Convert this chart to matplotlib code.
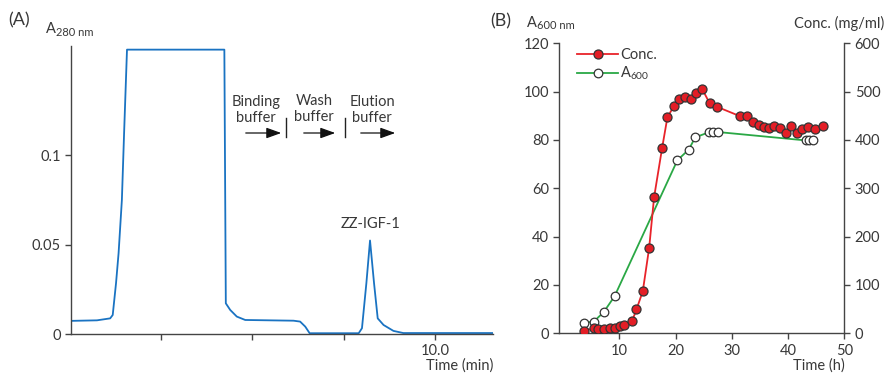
import matplotlib
matplotlib.use("Agg")
import matplotlib.pyplot as plt

plt.rcParams['font.family'] = ['Lato', 'DejaVu Sans']
plt.rcParams['mathtext.fontset'] = 'custom'
plt.rcParams['mathtext.rm'] = 'Lato'
plt.rcParams['mathtext.it'] = 'Lato'

TXT = '#383838'

# ---- Panel A data: chromatogram (time in min, A280) ----
a_time = [0.05, 0.76, 1.12, 1.19, 1.28, 1.35, 1.44, 1.50, 1.58, 4.24, 4.28, 4.40, 4.58,
          4.81, 6.13, 6.31, 6.45, 6.57, 7.91, 8.00, 8.12, 8.22, 8.33, 8.43, 8.59, 8.86,
          9.13, 11.58]
a_abs = [0.0075, 0.0078, 0.0089, 0.0108, 0.0285, 0.0453, 0.075, 0.112, 0.159, 0.159,
         0.0173, 0.0136, 0.0099, 0.0080, 0.0076, 0.0071, 0.0043, 0.0006, 0.0006, 0.0034,
         0.0285, 0.0524, 0.0285, 0.0089, 0.0052, 0.0019, 0.0007, 0.0007]
a_xticks = [2.5, 5.0, 7.5, 10.0]
a_xticklabels = ['', '', '', '10.0']
a_yticks = [0, 0.05, 0.1]
a_yticklabels = ['0', '0.05', '0.1']

# ---- Panel B data ----
conc_time = [3.78, 5.44, 6.26, 7.21, 8.33, 9.22, 10.1, 10.87, 12.29, 13.06, 14.18, 15.31,
             16.19, 17.61, 18.56, 19.68, 20.69, 21.75, 22.75, 23.64, 24.76, 26.06, 27.3,
             31.5, 32.74, 33.75, 34.75, 35.7, 36.64, 37.59, 38.59, 39.6, 40.6, 41.55,
             42.5, 43.5, 44.74, 46.2]
conc_val = [5.5, 10.4, 9.0, 9.0, 11.0, 11.5, 15.0, 18.0, 25.5, 49.5, 87.0, 176.5,
            281.5, 383.0, 447.0, 469.5, 484.0, 489.5, 485.5, 497.0, 505.0, 476.0, 469.0,
            449.0, 449.0, 437.0, 431.0, 427.5, 425.5, 428.5, 424.0, 414.5, 428.5, 414.5,
            423.5, 427.5, 422.0, 428.5]
a600_time = [3.78, 5.44, 7.21, 9.16, 20.33, 22.34, 23.52, 25.95, 26.71, 27.48, 43.2, 43.8, 44.4]
a600_val = [4.4, 4.8, 8.7, 15.3, 71.6, 76.0, 81.1, 83.2, 83.3, 83.3, 79.8, 79.8, 79.8]
b_xticks = [10, 20, 30, 40, 50]
b_yticks = [0, 20, 40, 60, 80, 100, 120]
b_y2ticks = [0, 100, 200, 300, 400, 500, 600]

W, H = 885, 373
fig = plt.figure(figsize=(W / 100, H / 100), dpi=100)

def fx(px):
    return px / W

def fy(py):
    return 1 - py / H

# ----- Panel A -----
axA = fig.add_axes([fx(71), fy(334.3), fx(493 - 71), (334.3 - 45.7) / H])
axA.plot(a_time, a_abs, color='#1a73c2', lw=1.3)
axA.set_xlim(0.05, 11.58)
axA.set_ylim(0, 0.1612)
axA.spines['top'].set_visible(False)
axA.spines['right'].set_visible(False)
for s in ['left', 'bottom']:
    axA.spines[s].set_color('#444444')
    axA.spines[s].set_linewidth(1.0)
axA.set_xticks(a_xticks)
axA.set_xticklabels(a_xticklabels)
axA.set_yticks(a_yticks)
axA.set_yticklabels(a_yticklabels)
axA.tick_params(axis='both', colors='#444444', labelcolor=TXT, labelsize=10.5, length=4, width=1)
axA.tick_params(axis='x', pad=3)

fig.text(fx(8), fy(20), '(A)', fontsize=13, color=TXT, va='center', ha='left')
fig.text(fx(46), fy(33), 'A', fontsize=10.5, color=TXT, va='baseline', ha='left')
fig.text(fx(56), fy(36), '280 nm', fontsize=8, color=TXT, va='baseline', ha='left')
fig.text(fx(493), fy(366), 'Time (min)', fontsize=10.5, color=TXT, va='center', ha='right')

fig.text(fx(256), fy(110), 'Binding\nbuffer', fontsize=10.5, color=TXT, ha='center', va='center', linespacing=1.15)
fig.text(fx(314), fy(109), 'Wash\nbuffer', fontsize=10.5, color=TXT, ha='center', va='center', linespacing=1.15)
fig.text(fx(372), fy(110), 'Elution\nbuffer', fontsize=10.5, color=TXT, ha='center', va='center', linespacing=1.15)
for x0, x1 in [(243, 284), (301, 338), (358, 398)]:
    fig.add_artist(matplotlib.patches.FancyArrowPatch(
        (fx(x0), fy(133)), (fx(x1), fy(133)), transform=fig.transFigure,
        arrowstyle='-|>,head_length=0.75,head_width=0.27', mutation_scale=12,
        color='#111111', lw=0.9))
for xb in [286, 345]:
    fig.add_artist(matplotlib.lines.Line2D([fx(xb), fx(xb)], [fy(118), fy(137)],
                                           color='#222222', lw=1.0, transform=fig.transFigure))
fig.text(fx(371), fy(224), 'ZZ-IGF-1', fontsize=10.5, color=TXT, ha='center', va='center')

# ----- Panel B -----
axB = fig.add_axes([fx(559.3), fy(333.3), fx(844.3 - 559.3), (333.3 - 43.3) / H])
axB.set_xlim(-0.66, 50)
axB.set_ylim(0, 120)
axB2 = axB.twinx()
axB2.set_ylim(0, 600)
lg, = axB.plot(a600_time, a600_val, color='#2aa845', lw=1.3, marker='o', ms=6.2,
               mfc='white', mec='#333333', mew=0.9, label='A$_{600}$')
lr, = axB2.plot(conc_time, conc_val, color='#e8232a', lw=1.3, marker='o', ms=6.5,
                mfc='#e31e26', mec='#333333', mew=0.9, label='Conc.')
for ax in (axB, axB2):
    ax.spines['top'].set_visible(False)
    for s in ['left', 'bottom', 'right']:
        ax.spines[s].set_color('#444444')
        ax.spines[s].set_linewidth(1.0)
    ax.tick_params(axis='both', colors='#444444', labelcolor=TXT, labelsize=10.5, length=4, width=1)
axB.spines['right'].set_visible(False)
axB2.spines['left'].set_visible(False)
axB2.spines['bottom'].set_visible(False)
axB.set_xticks(b_xticks)
axB.set_yticks(b_yticks)
axB2.set_yticks(b_y2ticks)
axB2.legend([lr, lg], ['Conc.', 'A$_{600}$'], loc='upper left', frameon=False,
            bbox_to_anchor=(0.017, 1.03), fontsize=10.5, handlelength=2.8,
            handletextpad=0.15, labelspacing=0.2, labelcolor=TXT)

fig.text(fx(490), fy(21), '(B)', fontsize=13, color=TXT, va='center', ha='left')
fig.text(fx(527), fy(27), 'A', fontsize=10.5, color=TXT, va='baseline', ha='left')
fig.text(fx(537), fy(29), '600 nm', fontsize=8, color=TXT, va='baseline', ha='left')
fig.text(fx(884), fy(23), 'Conc. (mg/ml)', fontsize=10.5, color=TXT, va='center', ha='right')
fig.text(fx(845), fy(366), 'Time (h)', fontsize=10.5, color=TXT, va='center', ha='right')

fig.savefig('out.png', dpi=100)
